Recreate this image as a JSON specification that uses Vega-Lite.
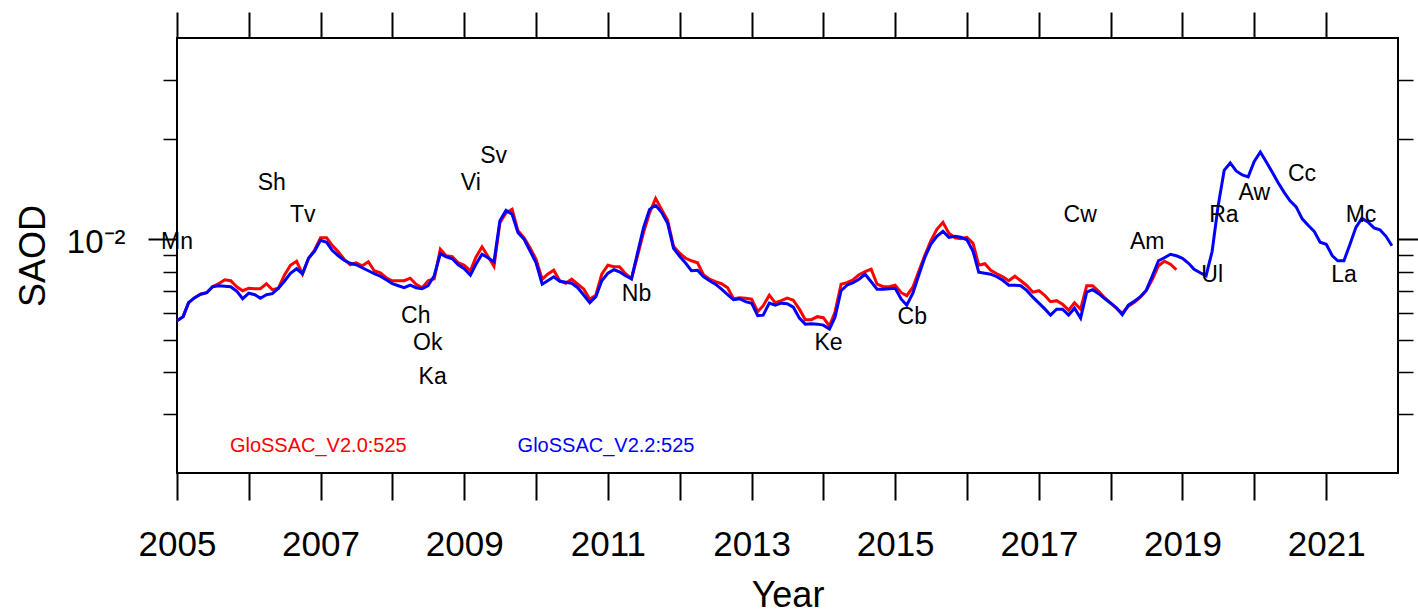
{
  "$schema": "https://vega.github.io/schema/vega-lite/v6.json",
  "width": 1221,
  "height": 435,
  "autosize": {"type": "none"},
  "padding": {"left": 177, "top": 38, "right": 20, "bottom": 141},
  "background": "white",
  "config": {
    "view": {"stroke": "black", "strokeWidth": 2},
    "font": "Liberation Sans",
    "axis": {"grid": false, "domain": false, "tickColor": "black", "labelColor": "black", "titleColor": "black", "labelFont": "Liberation Sans", "titleFont": "Liberation Sans", "titleFontWeight": "normal"},
    "text": {"font": "Liberation Sans"}
  },
  "resolve": {"axis": {"x": "independent", "y": "independent"}},
  "data": {"values": [
    {"d":"2005-01","r":0.005711,"b":0.005711},{"d":"2005-02","r":0.005870,"b":0.005870},{"d":"2005-03","r":0.006463,"b":0.006463},{"d":"2005-04","r":0.006689,"b":0.006689},{"d":"2005-05","r":0.006852,"b":0.006852},{"d":"2005-06","r":0.006923,"b":0.006923},{"d":"2005-07","r":0.007214,"b":0.007214},{"d":"2005-08","r":0.007365,"b":0.007264},{"d":"2005-09","r":0.007570,"b":0.007239},{"d":"2005-10","r":0.007518,"b":0.007214},{"d":"2005-11","r":0.007214,"b":0.006995},{"d":"2005-12","r":0.007019,"b":0.006643},
    {"d":"2006-01","r":0.007140,"b":0.006899},{"d":"2006-02","r":0.007116,"b":0.006828},{"d":"2006-03","r":0.007116,"b":0.006666},{"d":"2006-04","r":0.007365,"b":0.006828},{"d":"2006-05","r":0.007067,"b":0.006876},{"d":"2006-06","r":0.007140,"b":0.007140},{"d":"2006-07","r":0.007808,"b":0.007493},{"d":"2006-08","r":0.008364,"b":0.007916},{"d":"2006-09","r":0.008597,"b":0.008165},{"d":"2006-10","r":0.007862,"b":0.007889},{"d":"2006-11","r":0.008776,"b":0.008776},{"d":"2006-12","r":0.009272,"b":0.009208},
    {"d":"2007-01","r":0.010104,"b":0.009932},{"d":"2007-02","r":0.010104,"b":0.009796},{"d":"2007-03","r":0.009596,"b":0.009272},{"d":"2007-04","r":0.009177,"b":0.008928},{"d":"2007-05","r":0.008716,"b":0.008656},{"d":"2007-06","r":0.008392,"b":0.008479},{"d":"2007-07","r":0.008508,"b":0.008392},{"d":"2007-08","r":0.008335,"b":0.008221},{"d":"2007-09","r":0.008567,"b":0.008053},{"d":"2007-10","r":0.008053,"b":0.007889},{"d":"2007-11","r":0.007943,"b":0.007754},{"d":"2007-12","r":0.007675,"b":0.007570},
    {"d":"2008-01","r":0.007518,"b":0.007365},{"d":"2008-02","r":0.007518,"b":0.007264},{"d":"2008-03","r":0.007518,"b":0.007165},{"d":"2008-04","r":0.007649,"b":0.007289},{"d":"2008-05","r":0.007340,"b":0.007165},{"d":"2008-06","r":0.007165,"b":0.007116},{"d":"2008-07","r":0.007518,"b":0.007264},{"d":"2008-08","r":0.007622,"b":0.007781},{"d":"2008-09","r":0.009336,"b":0.009051},{"d":"2008-10","r":0.008928,"b":0.008867},{"d":"2008-11","r":0.008867,"b":0.008746},{"d":"2008-12","r":0.008508,"b":0.008392},
    {"d":"2009-01","r":0.008364,"b":0.008165},{"d":"2009-02","r":0.008053,"b":0.007808},{"d":"2009-03","r":0.008836,"b":0.008421},{"d":"2009-04","r":0.009497,"b":0.009020},{"d":"2009-05","r":0.008897,"b":0.008806},{"d":"2009-06","r":0.008306,"b":0.008567},{"d":"2009-07","r":0.011201,"b":0.011356},{"d":"2009-08","r":0.011998,"b":0.012206},{"d":"2009-09","r":0.012290,"b":0.011875},{"d":"2009-10","r":0.010602,"b":0.010457},{"d":"2009-11","r":0.010104,"b":0.010000},{"d":"2009-12","r":0.009432,"b":0.009240},
    {"d":"2010-01","r":0.008716,"b":0.008508},{"d":"2010-02","r":0.007596,"b":0.007340},{"d":"2010-03","r":0.007862,"b":0.007518},{"d":"2010-04","r":0.008081,"b":0.007728},{"d":"2010-05","r":0.007518,"b":0.007493},{"d":"2010-06","r":0.007390,"b":0.007441},{"d":"2010-07","r":0.007596,"b":0.007390},{"d":"2010-08","r":0.007340,"b":0.007165},{"d":"2010-09","r":0.007092,"b":0.006805},{"d":"2010-10","r":0.006621,"b":0.006463},{"d":"2010-11","r":0.006805,"b":0.006735},{"d":"2010-12","r":0.007862,"b":0.007518},
    {"d":"2011-01","r":0.008364,"b":0.007916},{"d":"2011-02","r":0.008278,"b":0.008109},{"d":"2011-03","r":0.008278,"b":0.007998},{"d":"2011-04","r":0.007889,"b":0.007781},{"d":"2011-05","r":0.007622,"b":0.007622},{"d":"2011-06","r":0.008928,"b":0.009114},{"d":"2011-07","r":0.010457,"b":0.010823},{"d":"2011-08","r":0.011998,"b":0.012290},{"d":"2011-09","r":0.013255,"b":0.012633},{"d":"2011-10","r":0.012290,"b":0.012039},{"d":"2011-11","r":0.011395,"b":0.011163},{"d":"2011-12","r":0.009530,"b":0.009400},
    {"d":"2012-01","r":0.009083,"b":0.008897},{"d":"2012-02","r":0.008776,"b":0.008479},{"d":"2012-03","r":0.008626,"b":0.008053},{"d":"2012-04","r":0.008508,"b":0.008081},{"d":"2012-05","r":0.007835,"b":0.007728},{"d":"2012-06","r":0.007596,"b":0.007518},{"d":"2012-07","r":0.007467,"b":0.007340},{"d":"2012-08","r":0.007365,"b":0.007092},{"d":"2012-09","r":0.007165,"b":0.006828},{"d":"2012-10","r":0.006643,"b":0.006598},{"d":"2012-11","r":0.006689,"b":0.006643},{"d":"2012-12","r":0.006666,"b":0.006508},
    {"d":"2013-01","r":0.006621,"b":0.006441},{"d":"2013-02","r":0.006075,"b":0.005911},{"d":"2013-03","r":0.006331,"b":0.005931},{"d":"2013-04","r":0.006805,"b":0.006441},{"d":"2013-05","r":0.006463,"b":0.006353},{"d":"2013-06","r":0.006553,"b":0.006441},{"d":"2013-07","r":0.006666,"b":0.006419},{"d":"2013-08","r":0.006575,"b":0.006266},{"d":"2013-09","r":0.006181,"b":0.005810},{"d":"2013-10","r":0.005750,"b":0.005575},{"d":"2013-11","r":0.005750,"b":0.005594},{"d":"2013-12","r":0.005870,"b":0.005575},
    {"d":"2014-01","r":0.005830,"b":0.005537},{"d":"2014-02","r":0.005499,"b":0.005387},{"d":"2014-03","r":0.006055,"b":0.005850},{"d":"2014-04","r":0.007340,"b":0.007019},{"d":"2014-05","r":0.007416,"b":0.007289},{"d":"2014-06","r":0.007570,"b":0.007416},{"d":"2014-07","r":0.007835,"b":0.007596},{"d":"2014-08","r":0.007998,"b":0.007862},{"d":"2014-09","r":0.008137,"b":0.007467},{"d":"2014-10","r":0.007340,"b":0.007092},{"d":"2014-11","r":0.007214,"b":0.007092},{"d":"2014-12","r":0.007214,"b":0.007116},
    {"d":"2015-01","r":0.007289,"b":0.007140},{"d":"2015-02","r":0.006923,"b":0.006621},{"d":"2015-03","r":0.006782,"b":0.006353},{"d":"2015-04","r":0.007190,"b":0.006899},{"d":"2015-05","r":0.008026,"b":0.007808},{"d":"2015-06","r":0.008959,"b":0.008836},{"d":"2015-07","r":0.009897,"b":0.009662},{"d":"2015-08","r":0.010712,"b":0.010208},{"d":"2015-09","r":0.011240,"b":0.010565},{"d":"2015-10","r":0.010421,"b":0.010138},{"d":"2015-11","r":0.010104,"b":0.010208},{"d":"2015-12","r":0.010034,"b":0.010138},
    {"d":"2016-01","r":0.010138,"b":0.009966},{"d":"2016-02","r":0.009729,"b":0.009208},{"d":"2016-03","r":0.008364,"b":0.007971},{"d":"2016-04","r":0.008450,"b":0.007916},{"d":"2016-05","r":0.008081,"b":0.007862},{"d":"2016-06","r":0.007889,"b":0.007728},{"d":"2016-07","r":0.007728,"b":0.007544},{"d":"2016-08","r":0.007518,"b":0.007289},{"d":"2016-09","r":0.007754,"b":0.007289},{"d":"2016-10","r":0.007518,"b":0.007264},{"d":"2016-11","r":0.007264,"b":0.007019},{"d":"2016-12","r":0.006947,"b":0.006712},
    {"d":"2017-01","r":0.007019,"b":0.006441},{"d":"2017-02","r":0.006782,"b":0.006181},{"d":"2017-03","r":0.006508,"b":0.005931},{"d":"2017-04","r":0.006553,"b":0.006181},{"d":"2017-05","r":0.006397,"b":0.006181},{"d":"2017-06","r":0.006138,"b":0.005931},{"d":"2017-07","r":0.006463,"b":0.006223},{"d":"2017-08","r":0.006181,"b":0.005810},{"d":"2017-09","r":0.007264,"b":0.006947},{"d":"2017-10","r":0.007264,"b":0.007067},{"d":"2017-11","r":0.006995,"b":0.006876},{"d":"2017-12","r":0.006689,"b":0.006643},
    {"d":"2018-01","r":0.006441,"b":0.006441},{"d":"2018-02","r":0.006202,"b":0.006223},{"d":"2018-03","r":0.006013,"b":0.005951},{"d":"2018-04","r":0.006310,"b":0.006353},{"d":"2018-05","r":0.006485,"b":0.006530},{"d":"2018-06","r":0.006712,"b":0.006735},{"d":"2018-07","r":0.007019,"b":0.007043},{"d":"2018-08","r":0.007596,"b":0.007781},{"d":"2018-09","r":0.008335,"b":0.008626},{"d":"2018-10","r":0.008597,"b":0.008806},{"d":"2018-11","r":0.008421,"b":0.009020},{"d":"2018-12","r":0.008109,"b":0.008928},
    {"d":"2019-01","b":0.008776},{"d":"2019-02","b":0.008479},{"d":"2019-03","b":0.008137},{"d":"2019-04","b":0.007943},{"d":"2019-05","b":0.007781},{"d":"2019-06","b":0.009208},{"d":"2019-07","b":0.012546},{"d":"2019-08","b":0.016069},{"d":"2019-09","b":0.016919},{"d":"2019-10","b":0.016013},{"d":"2019-11","b":0.015579},{"d":"2019-12","b":0.015366},
    {"d":"2020-01","b":0.017094},{"d":"2020-02","b":0.018247},{"d":"2020-03","b":0.017094},{"d":"2020-04","b":0.015904},{"d":"2020-05","b":0.014796},{"d":"2020-06","b":0.013813},{"d":"2020-07","b":0.013029},{"d":"2020-08","b":0.012503},{"d":"2020-09","b":0.011513},{"d":"2020-10","b":0.011010},{"d":"2020-11","b":0.010565},{"d":"2020-12","b":0.009796},
    {"d":"2021-01","b":0.009662},{"d":"2021-02","b":0.008928},{"d":"2021-03","b":0.008626},{"d":"2021-04","b":0.008626},{"d":"2021-05","b":0.009629},{"d":"2021-06","b":0.010860},{"d":"2021-07","b":0.011553},{"d":"2021-08","b":0.011278},{"d":"2021-09","b":0.010823},{"d":"2021-10","b":0.010675},{"d":"2021-11","b":0.010208},{"d":"2021-12","b":0.009563}
  ]},
  "layer": [
    {
      "mark": {"type": "line", "color": "#ff0000", "strokeWidth": 3},
      "encoding": {
        "x": {"field": "d", "type": "temporal",
          "scale": {"type": "utc", "domain": [{"year": 2005, "month": 1, "date": 1, "utc": true}, {"year": 2022, "month": 1, "date": 1, "utc": true}]},
          "axis": {"orient": "bottom",
            "values": [{"year":2005,"utc":true},{"year":2006,"utc":true},{"year":2007,"utc":true},{"year":2008,"utc":true},{"year":2009,"utc":true},{"year":2010,"utc":true},{"year":2011,"utc":true},{"year":2012,"utc":true},{"year":2013,"utc":true},{"year":2014,"utc":true},{"year":2015,"utc":true},{"year":2016,"utc":true},{"year":2017,"utc":true},{"year":2018,"utc":true},{"year":2019,"utc":true},{"year":2020,"utc":true},{"year":2021,"utc":true}],
            "tickSize": 27, "tickWidth": 2,
            "labelExpr": "utcyear(datum.value) % 2 == 1 ? '' + utcyear(datum.value) : ''",
            "labelFontSize": 35, "labelPadding": 27, "labelOverlap": false, "labelFlush": false, "labelBound": false,
            "title": "Year", "titleFontSize": 36, "titlePadding": 16}},
        "y": {"field": "r", "type": "quantitative",
          "scale": {"type": "log", "domain": [0.002, 0.04], "nice": false},
          "axis": {"orient": "left", "values": [0.003, 0.004, 0.005, 0.006, 0.007, 0.008, 0.009, 0.02, 0.03], "tickSize": 14, "tickWidth": 1.5, "labels": false, "title": null}}
      }
    },
    {
      "mark": {"type": "line", "color": "#0000ff", "strokeWidth": 3},
      "encoding": {
        "x": {"field": "d", "type": "temporal",
          "scale": {"type": "utc", "domain": [{"year": 2005, "month": 1, "date": 1, "utc": true}, {"year": 2022, "month": 1, "date": 1, "utc": true}]},
          "axis": {"orient": "top",
            "values": [{"year":2005,"utc":true},{"year":2006,"utc":true},{"year":2007,"utc":true},{"year":2008,"utc":true},{"year":2009,"utc":true},{"year":2010,"utc":true},{"year":2011,"utc":true},{"year":2012,"utc":true},{"year":2013,"utc":true},{"year":2014,"utc":true},{"year":2015,"utc":true},{"year":2016,"utc":true},{"year":2017,"utc":true},{"year":2018,"utc":true},{"year":2019,"utc":true},{"year":2020,"utc":true},{"year":2021,"utc":true}],
            "tickSize": 26, "tickWidth": 2, "labels": false, "title": null}},
        "y": {"field": "b", "type": "quantitative",
          "scale": {"type": "log", "domain": [0.002, 0.04], "nice": false},
          "axis": {"orient": "right", "values": [0.003, 0.004, 0.005, 0.006, 0.007, 0.008, 0.009, 0.02, 0.03], "tickSize": 15, "tickWidth": 1.5, "labels": false, "title": null}}
      }
    },
    {
      "data": {"values": [
        {"name": "Mn", "d": "2005-01-01", "v": 0.009932},
        {"name": "Sh", "d": "2006-04-28", "v": 0.014898},
        {"name": "Tv", "d": "2006-10-02", "v": 0.011957},
        {"name": "Vi", "d": "2009-02-03", "v": 0.014898},
        {"name": "Sv", "d": "2009-05-30", "v": 0.017937},
        {"name": "Ch", "d": "2008-04-29", "v": 0.005972},
        {"name": "Ok", "d": "2008-06-29", "v": 0.004960},
        {"name": "Ka", "d": "2008-07-24", "v": 0.003927},
        {"name": "Nb", "d": "2011-05-27", "v": 0.006947},
        {"name": "Ke", "d": "2014-01-27", "v": 0.004960},
        {"name": "Cb", "d": "2015-03-29", "v": 0.005931},
        {"name": "Cw", "d": "2017-07-30", "v": 0.011957},
        {"name": "Am", "d": "2018-07-06", "v": 0.009932},
        {"name": "Ra", "d": "2019-07-31", "v": 0.011957},
        {"name": "Ul", "d": "2019-06-01", "v": 0.007916},
        {"name": "Aw", "d": "2020-01-01", "v": 0.013909},
        {"name": "Cc", "d": "2020-08-31", "v": 0.015849},
        {"name": "Mc", "d": "2021-06-27", "v": 0.011957},
        {"name": "La", "d": "2021-04-02", "v": 0.007916}
      ]},
      "mark": {"type": "text", "fontSize": 23, "align": "center", "baseline": "middle", "dy": 2, "color": "black"},
      "encoding": {
        "x": {"field": "d", "type": "temporal",
          "scale": {"type": "utc", "domain": [{"year": 2005, "month": 1, "date": 1, "utc": true}, {"year": 2022, "month": 1, "date": 1, "utc": true}]},
          "axis": null},
        "y": {"field": "v", "type": "quantitative",
          "scale": {"type": "log", "domain": [0.002, 0.04], "nice": false},
          "axis": {"orient": "left", "values": [0.01], "tickSize": 29, "tickWidth": 2, "labelExpr": "'10⁻²'", "labelFontSize": 33, "labelPadding": 23, "labelOffset": 3, "title": "SAOD", "titleFontSize": 36, "titlePadding": 14}},
        "text": {"field": "name", "type": "nominal"}
      }
    },
    {
      "data": {"values": [
        {"label": "GloSSAC_V2.0:525", "d": "2005-09-27", "v": 0.0024353},
        {"label": "GloSSAC_V2.2:525", "d": "2009-09-29", "v": 0.0024353}
      ]},
      "mark": {"type": "text", "fontSize": 20, "align": "left", "baseline": "middle", "dy": 2},
      "encoding": {
        "x": {"field": "d", "type": "temporal",
          "scale": {"type": "utc", "domain": [{"year": 2005, "month": 1, "date": 1, "utc": true}, {"year": 2022, "month": 1, "date": 1, "utc": true}]},
          "axis": null},
        "y": {"field": "v", "type": "quantitative",
          "scale": {"type": "log", "domain": [0.002, 0.04], "nice": false},
          "axis": {"orient": "right", "values": [0.01], "tickSize": 20, "tickWidth": 2, "labels": false, "title": null}},
        "text": {"field": "label", "type": "nominal"},
        "color": {"field": "label", "type": "nominal", "scale": {"domain": ["GloSSAC_V2.0:525", "GloSSAC_V2.2:525"], "range": ["#ff0000", "#0000ff"]}, "legend": null}
      }
    }
  ]
}
